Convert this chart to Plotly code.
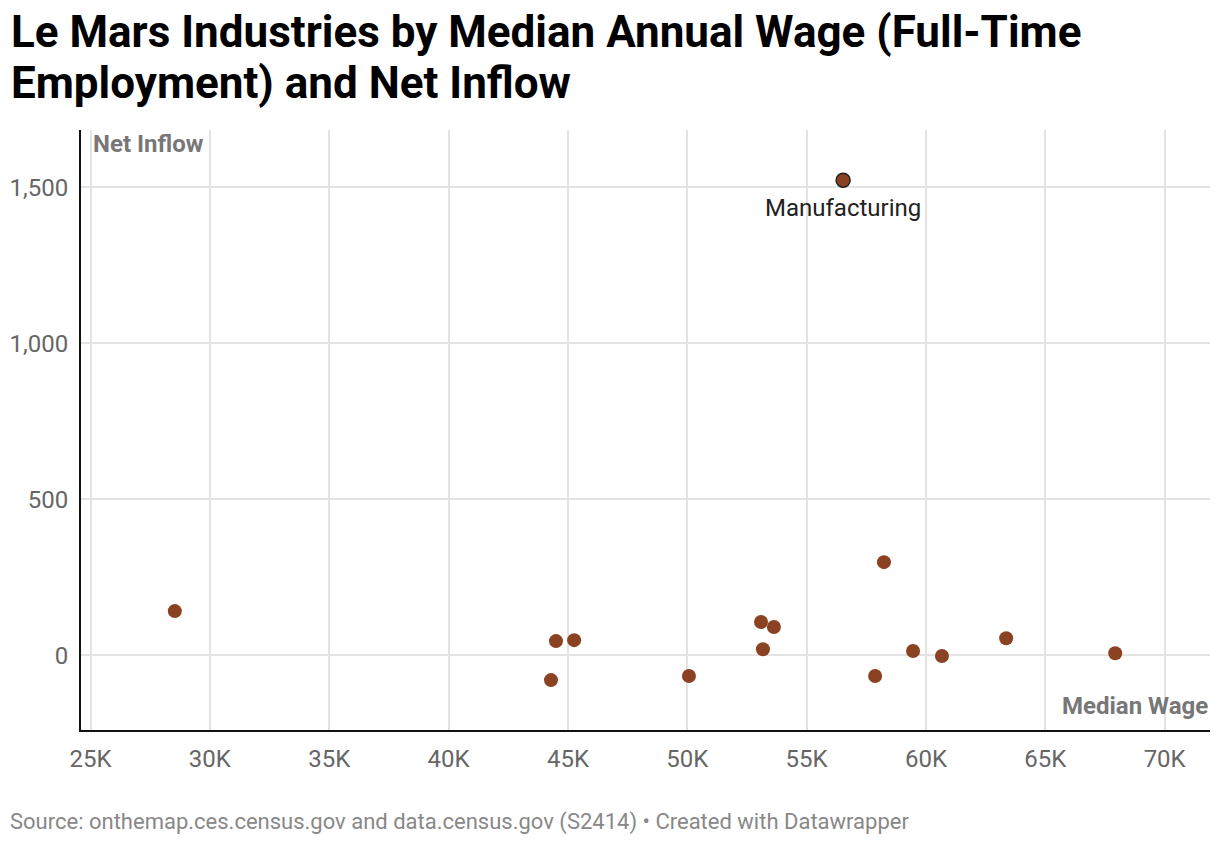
import plotly.graph_objects as go

# Data
industries = ["Manufacturing", "Ind A", "Ind B", "Ind C", "Ind D", "Ind E", "Ind F", "Ind G",
              "Ind H", "Ind I", "Ind J", "Ind K", "Ind L", "Ind M", "Ind N"]
median_wage = [56530, 28530, 44500, 45260, 44290, 50070, 53090, 53630, 53170,
               58240, 57870, 59460, 60670, 63360, 67930]
net_inflow = [1522, 141, 45, 48, -80, -67, 106, 90, 19, 298, -67, 13, -3, 54, 6]
labeled = ["Manufacturing"]

x_ticks = [25000, 30000, 35000, 40000, 45000, 50000, 55000, 60000, 65000, 70000]
x_tick_text = ["25K", "30K", "35K", "40K", "45K", "50K", "55K", "60K", "65K", "70K"]
y_ticks = [0, 500, 1000, 1500]
y_tick_text = ["0", "500", "1,000", "1,500"]

title_lines = ["Le Mars Industries by Median Annual Wage (Full-Time", "Employment) and Net Inflow"]
source = "Source: onthemap.ces.census.gov and data.census.gov (S2414) • Created with Datawrapper"

BROWN = "#8b4222"
FONT = "Roboto"

# figure geometry (page has 8px body margin)
W, H = 1212, 838
ML, MR, MT, MB = 73, 10, 122, 116
PW, PH = W - ML - MR, H - MT - MB


def px(xp):
    return (xp - 8 - ML) / PW


def py(yp):
    return (H - MB - (yp - 8)) / PH


line_w = [1.5 if n in labeled else 0 for n in industries]

fig = go.Figure()
fig.add_trace(go.Scatter(
    x=median_wage, y=net_inflow, mode="markers",
    marker=dict(size=14, color=BROWN, line=dict(color="#222222", width=line_w)),
    text=industries, hoverinfo="text", showlegend=False,
))

for n, xv, yv in zip(industries, median_wage, net_inflow):
    if n in labeled:
        fig.add_annotation(x=xv, y=yv, text=n, showarrow=False, yshift=-28,
                           font=dict(family=FONT, size=24, color="#222222"))

for i, line in enumerate(title_lines):
    fig.add_annotation(xref="paper", yref="paper", x=px(9), y=py(60 + 51 * i),
                       xanchor="left", yanchor="bottom",
                       text="<b>" + line + "</b>", showarrow=False,
                       font=dict(family=FONT, size=44, color="#000000"))
fig.add_annotation(xref="paper", yref="paper", x=px(91), y=py(144), xanchor="left", yanchor="middle",
                   text="<b>Net Inflow</b>", showarrow=False,
                   font=dict(family=FONT, size=24, color="#777777"))
fig.add_annotation(xref="paper", yref="paper", x=px(1210), y=py(706), xanchor="right", yanchor="middle",
                   text="<b>Median Wage</b>", showarrow=False,
                   font=dict(family=FONT, size=24, color="#777777"))
fig.add_annotation(xref="paper", yref="paper", x=px(8), y=py(822), xanchor="left", yanchor="middle",
                   text=source, showarrow=False,
                   font=dict(family=FONT, size=22, color="#888888"))

fig.update_layout(
    width=W, height=H,
    margin=dict(l=ML, r=MR, t=MT, b=MB, pad=0),
    paper_bgcolor="white", plot_bgcolor="white",
    font=dict(family=FONT),
    xaxis=dict(range=[24600, 71900], tickvals=x_ticks, ticktext=x_tick_text,
               showgrid=True, gridcolor="#e3e3e3", gridwidth=1.5,
               showline=True, linecolor="#111111", linewidth=2, zeroline=False,
               ticks="", ticklabelstandoff=6, automargin=False,
               tickfont=dict(family=FONT, size=24, color="#666666")),
    yaxis=dict(range=[-240, 1683], tickvals=y_ticks, ticktext=y_tick_text,
               showgrid=True, gridcolor="#e3e3e3", gridwidth=1.5,
               showline=True, linecolor="#111111", linewidth=2, zeroline=False,
               ticks="", ticklabelstandoff=6, automargin=False,
               tickfont=dict(family=FONT, size=24, color="#666666")),
)

fig.write_html("out.html")
